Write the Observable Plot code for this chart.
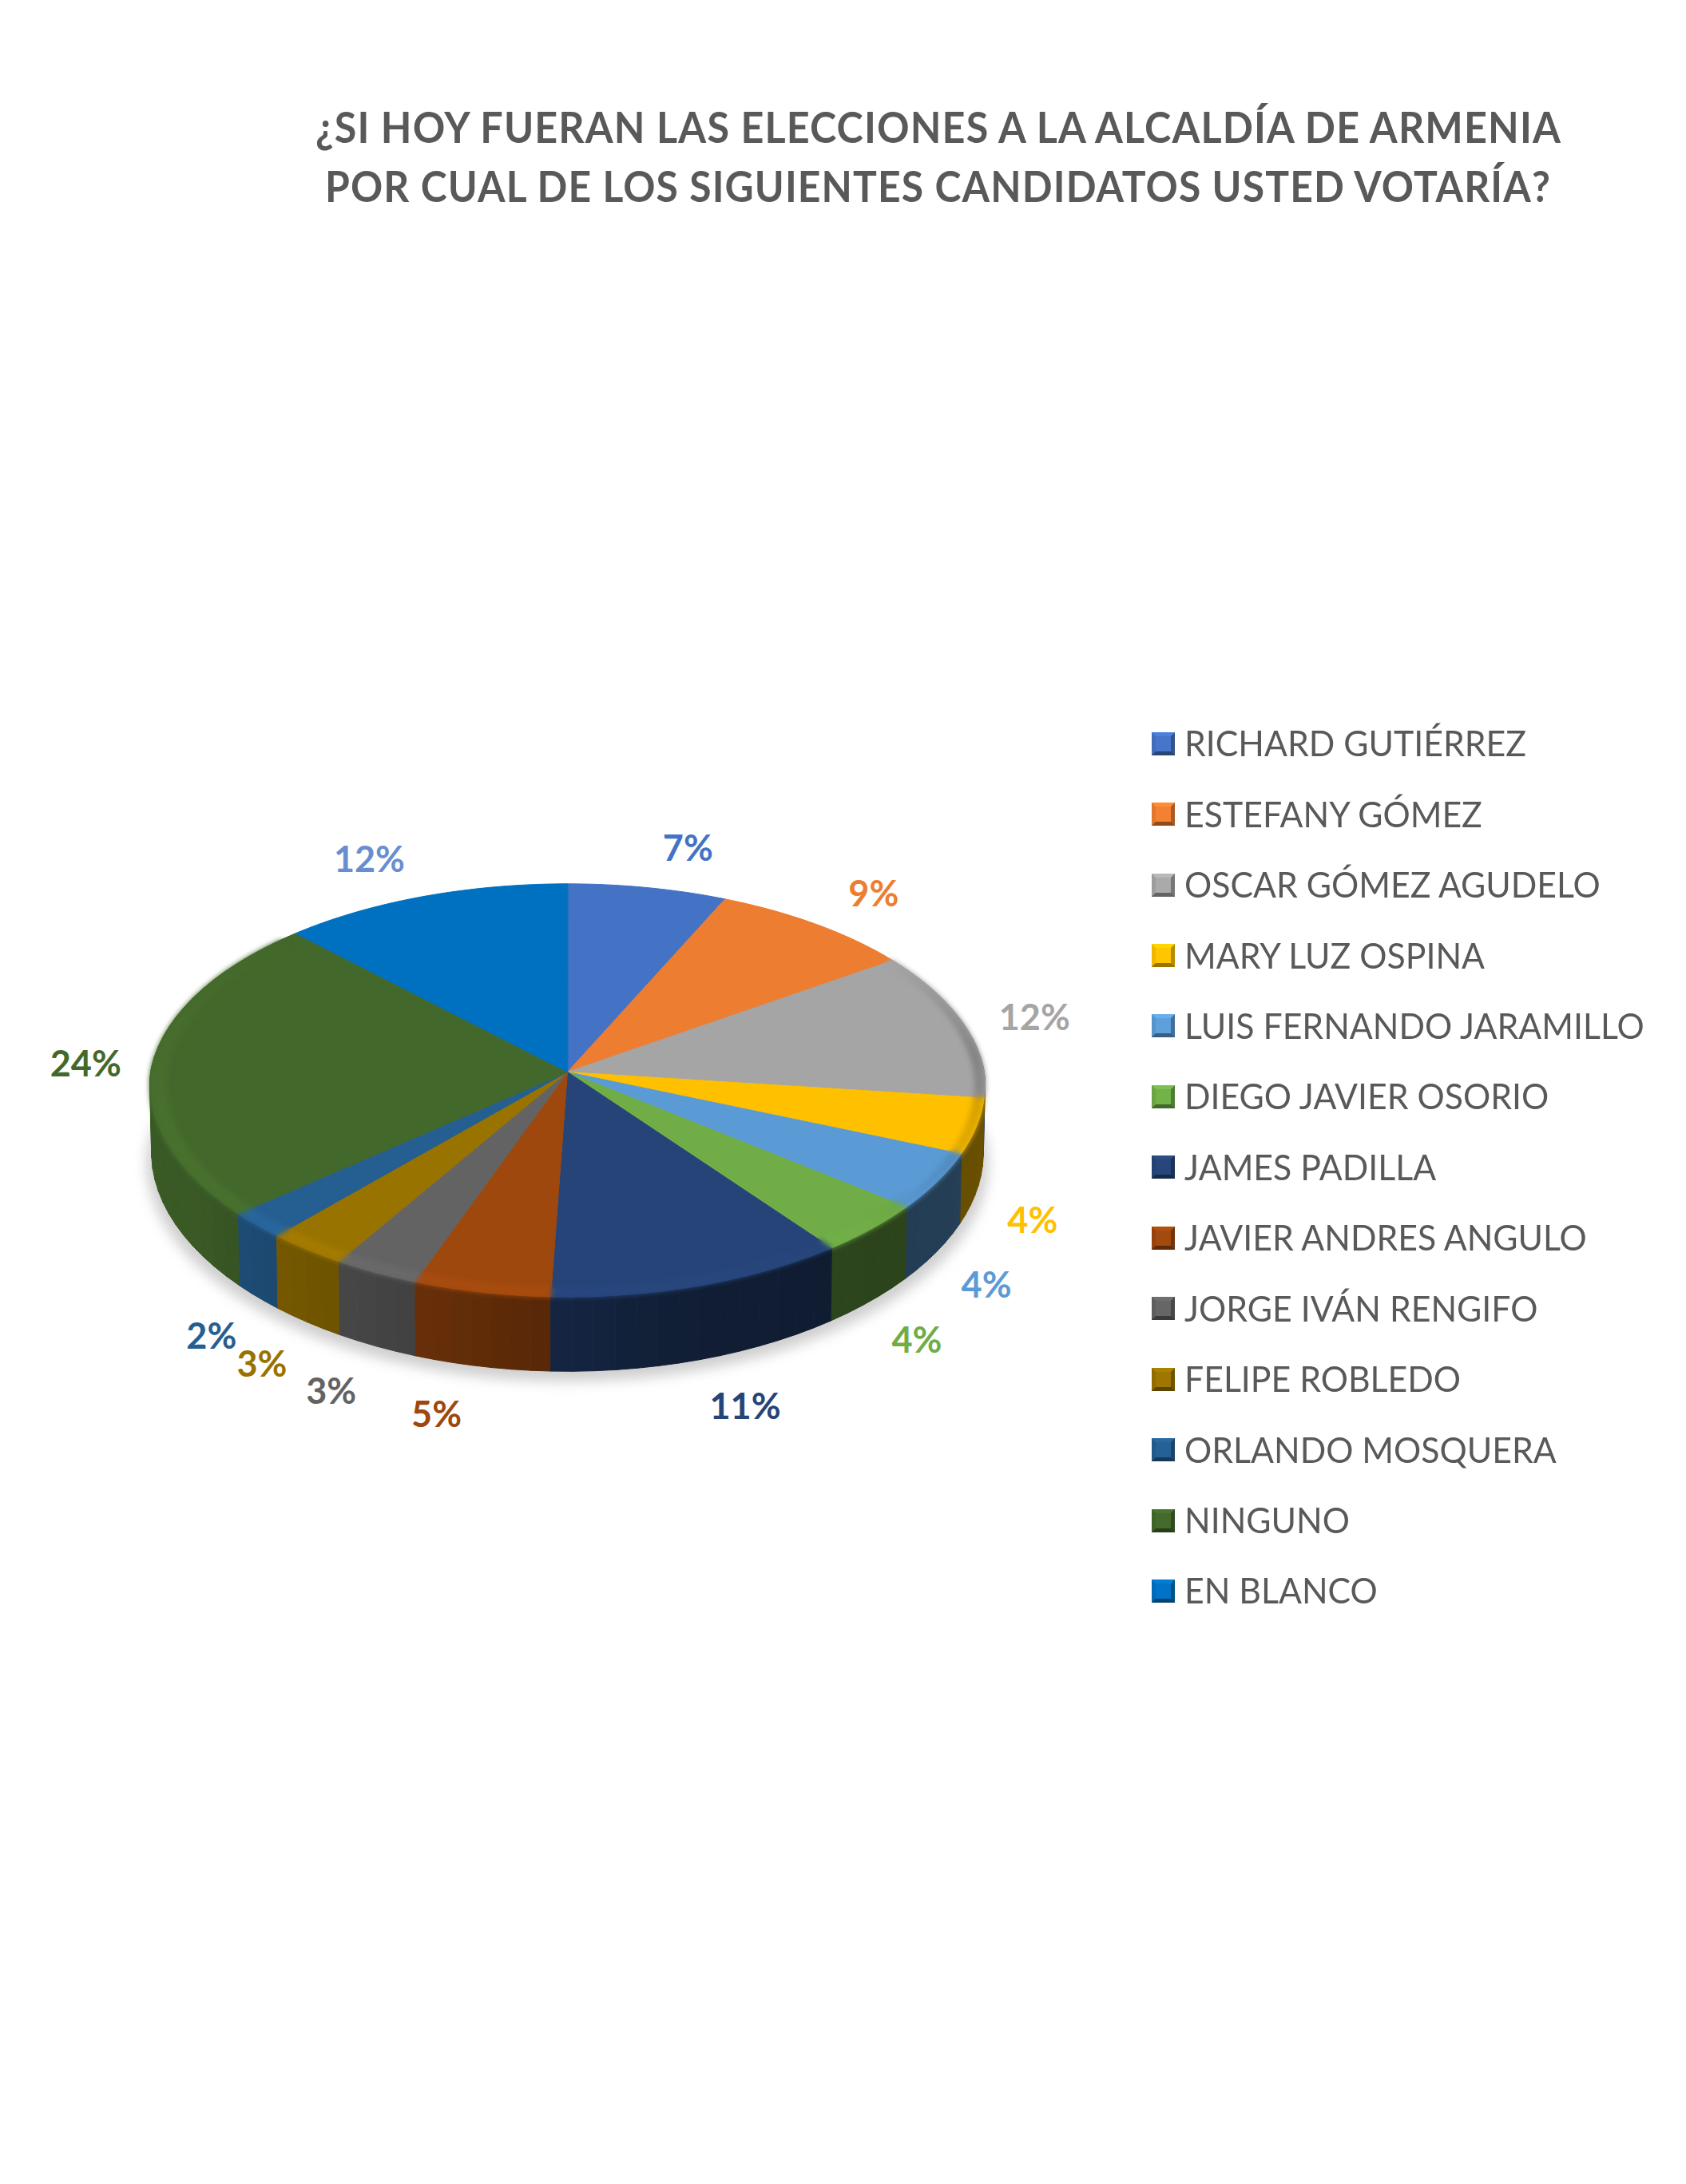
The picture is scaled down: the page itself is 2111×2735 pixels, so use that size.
<!DOCTYPE html>
<html><head><meta charset="utf-8">
<script src="https://cdn.jsdelivr.net/npm/d3@7"></script>
<script src="https://cdn.jsdelivr.net/npm/@observablehq/plot@0.6"></script>
<style>
html,body{margin:0;padding:0;background:#fff}
#page{position:relative;width:2111px;height:2735px;overflow:hidden;font-family:Lato,"Open Sans",sans-serif;color:#595959}
#chart{position:absolute;left:0;top:0}
.title{position:absolute;left:0;width:2111px;white-space:nowrap;font-weight:700;font-size:53px;line-height:53px;letter-spacing:1.2px;color:#595959}
.title span{position:absolute;transform-origin:left top}
#legend{position:absolute;left:1442px;top:887px}
.row{height:88.45px;display:flex;align-items:center;white-space:nowrap}
.sw{box-sizing:border-box;width:29px;height:29px;border-style:solid;border-width:5px;flex:none;margin-right:12px}
.lab{font-size:45px;display:inline-block;transform-origin:left center;position:relative;top:-1px}
</style></head><body>
<div id="page"><div id="chart"></div>
<div class="title"><span id="t1" style="left:395px;top:132px">¿SI HOY FUERAN LAS ELECCIONES A LA ALCALDÍA DE ARMENIA</span><span id="t2" style="left:407px;top:206px">POR CUAL DE LOS SIGUIENTES CANDIDATOS USTED VOTARÍA?</span></div>
<div id="legend"></div></div>
<script>
const candidates = ["RICHARD GUTIÉRREZ","ESTEFANY GÓMEZ","OSCAR GÓMEZ AGUDELO","MARY LUZ OSPINA","LUIS FERNANDO JARAMILLO","DIEGO JAVIER OSORIO","JAMES PADILLA","JAVIER ANDRES ANGULO","JORGE IVÁN RENGIFO","FELIPE ROBLEDO","ORLANDO MOSQUERA","NINGUNO","EN BLANCO"];
const shares = [6.7,8.6,11.7,4.3,4.4,4.0,10.9,5.0,3.1,2.9,2.1,24.1,12.2];
const colors = ["#4472C4","#ED7D31","#A5A5A5","#FFC000","#5B9BD5","#70AD47","#264478","#9E480E","#636363","#997300","#255E91","#43682B","#0070C0"];
const labelColors = ["#4472C4","#ED7D31","#A5A5A5","#FFC000","#5B9BD5","#70AD47","#264478","#9E480E","#636363","#997300","#255E91","#43682B","#698ED0"];

// perspective of the disc
const tilt = 0.0887, depth = 0.331, frontPinch = 0.03;
const proj = (deg, r = 1) => { const t = deg*Math.PI/180, c = Math.cos(t), s = Math.sin(t), w = 1 + tilt*c*r;
  return {u:r*s/w*(1-frontPinch*Math.max(0,-c)), v:r*c/w, w, s, c}; };
const low = (deg) => { const p = proj(deg); return {u:p.u*0.996, v:p.v - depth/p.w}; };
const sideShade = d3.scaleLinear([90,135,165,195,240,320],[.42,.39,.44,.63,.86,.88]);
const rimShade = d3.scaleLinear([55,85,110,135,160,200,240,290,312],[1,.8,.88,1,1.04,1.06,1.08,1.04,1]);
const times = (col,f) => { const c = d3.rgb(col); return d3.rgb(c.r*f,c.g*f,c.b*f).formatHex(); };

let acc = 0;
const slices = shares.map((s,i)=>{ const a0 = acc/100*360; acc += s; const a1 = acc/100*360; return {i,s,a0,a1,mid:(a0+a1)/2}; });
const steps = (a0,a1,n) => d3.range(n+1).map(k=>a0+(a1-a0)*k/n);

const topPts=[], sidePts=[], rimPts=[];
for (const sl of slices) {
  const n = Math.ceil((sl.a1-sl.a0));
  topPts.push({id:sl.i,x:0,y:0,c:colors[sl.i]});
  for (const a of steps(sl.a0,sl.a1,n)) { const p = proj(a); topPts.push({id:sl.i,x:p.u,y:p.v,c:colors[sl.i]}); }
  const ns = Math.ceil((sl.a1-sl.a0)/3);
  const st = steps(sl.a0,sl.a1,ns);
  for (let k=0;k<ns;k++) {
    const a0=st[k], a1=st[k+1], m=(a0+a1)/2, id=`${sl.i}-${k}`;
    const P0=proj(a0),P1=proj(a1);
    if (m>=55 && m<=312) {
      const rc = times(colors[sl.i], rimShade(m)), rr = m<125 ? .975 : .96, A=proj(a0,rr), B=proj(a1,rr);
      for (const q of [[P0.u,P0.v],[P1.u,P1.v],[B.u,B.v],[A.u,A.v]]) rimPts.push({id:`r${id}`,x:q[0],y:q[1],c:rc});
    }
    if (m<80||m>300) continue;
    const c = times(colors[sl.i], sideShade(m)), order=proj(m).v;
    const L0=low(a0),L1=low(a1);
    for (const q of [[P0.u,P0.v],[P1.u,P1.v],[L1.u,L1.v],[L0.u,L0.v]]) sidePts.push({id,x:q[0],y:q[1],c,order});
  }
}
sidePts.sort((a,b)=>b.order-a.order);
const shadowPts = d3.range(0,360,2).map(a=>{const p=low(a);return {x:p.u*1.012,y:p.v-0.05};});

const labelPts = slices.map(sl=>{
  const p = proj(sl.mid), back = p.c>=0, q = back?p:low(sl.mid), as = Math.abs(p.s);
  const dx = Math.sign(p.s)*(back?(p.s>0?40+50*as:58+26*as):57+20*as**8);
  const dy = back?6-55*p.c:22-40*p.c;
  return {x:q.u,y:q.v,dx,dy,text:d3.format(".0f")(sl.s)+"%",c:labelColors[sl.i]};
});

const line = (pts,extra={}) => Plot.line(pts,{x:"x",y:"y",z:"id",fill:d=>d.c,stroke:d=>d.c,strokeWidth:1,curve:"linear-closed",...extra});
const plot = Plot.plot({
  width:2111,height:2735,margin:0,
  x:{domain:[-1,1],range:[188,1232],axis:null},
  y:{domain:[-1,1],range:[1598.6,1085.4],axis:null},
  color:{type:"identity"},
  style:{background:"transparent"},
  marks:[
    Plot.line(shadowPts,{x:"x",y:"y",fill:"#cfcfcf",stroke:"none",curve:"linear-closed",imageFilter:"blur(8px)"}),
    line(sidePts),
    line(topPts),
    line(rimPts,{imageFilter:"blur(3px)"}),
    ...labelPts.map(d=>Plot.text([d],{x:"x",y:"y",text:"text",dx:d.dx,dy:d.dy,fill:d.c,fontSize:45,fontWeight:700,fontFamily:"Lato",textAnchor:"middle",lineAnchor:"middle"}))
  ]
});
document.getElementById("chart").append(plot);

const legend = d3.select("#legend");
candidates.forEach((name,i)=>{
  const c = colors[i];
  const row = legend.append("div").attr("class","row");
  row.append("div").attr("class","sw").style("background",times(c,1.03))
    .style("border-color",`${times(c,1.12)} ${times(c,.72)} ${times(c,.6)} ${times(c,.95)}`);
  row.append("span").attr("class","lab").text(name);
});
const fit = (sel,target)=>{const e=document.querySelector(sel);e.style.transform=`scaleX(${target/e.getBoundingClientRect().width})`;};
fit("#t1",1560);fit("#t2",1535);
const labs=[...document.querySelectorAll(".lab")];
const r=428/labs[0].getBoundingClientRect().width;
labs.forEach(e=>e.style.transform=`scaleX(${r})`);
</script>
</body></html>
